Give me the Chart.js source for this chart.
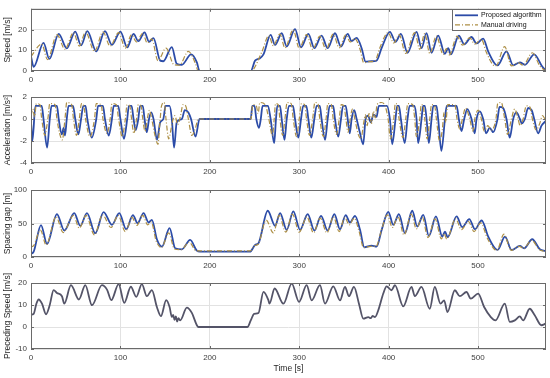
<!DOCTYPE html>
<html>
<head>
<meta charset="utf-8">
<script src="https://cdn.jsdelivr.net/npm/chart.js@4.4.0/dist/chart.umd.min.js"></script>
<style>
  body { margin: 0; background: #fff; }
  #wrap { position: relative; width: 550px; height: 378px; }
  canvas { position: absolute; left: 0; top: 0; }
</style>
</head>
<body>
<div id="wrap">
  <canvas id="speedChart" width="550" height="378"></canvas>
  <canvas id="accChart" width="550" height="378"></canvas>
  <canvas id="gapChart" width="550" height="378"></canvas>
  <canvas id="precChart" width="550" height="378"></canvas>
</div>
<script>
// Series names and axis ticks
const seriesNames = ['Proposed algorithm', 'Manual driving'];
const timeTicks = [0, 100, 200, 300, 400, 500];
const timeMax = 576;

// Speed [m/s] - proposed algorithm
const speedPropT = [0,3,14,20.5,31,40,49.5,56,63,73,82.7,90.5,100,107.6,114.7,120,127,132,137,144.5,148,157.5,163,168.7,179,185.5,188.5,245.8,250.6,255.5,260,268,273,280.4,286,295.3,302,310.2,316.9,325,331.8,340,346.7,354.2,358.6,364.2,369.8,374.2,380.9,386.5,392.1,401.4,407.7,413.7,421.1,431.2,436.8,442.4,448,455.4,462.9,466.6,469.6,478.5,484.5,492.7,498.3,505.7,511.3,518.8,521.8,531.8,539.3,546.8,552.4,562.8,571,575.5];
const speedPropV = [7,2,13.6,5.8,17.9,10.9,19,12.4,19.2,9.5,19.2,12.6,19,11.4,17.9,14.4,18.6,14.1,15.9,5,4.7,11.5,3.5,3,8,4.2,0,0,5,6,8,17.4,12.6,18.2,11.8,20.2,11.4,17.9,11,17.1,11,18.2,11.8,17.9,14.4,16,11,4.5,4.7,5,11,18.9,14.1,17.9,8.8,18.9,11,18.3,8.8,17.1,8.3,11,8,17.1,12.9,16.4,13.3,15.6,9.5,3.5,2.7,9.5,2.7,4.2,3,8,2.7,0.2];

// Speed [m/s] - manual driving
const speedManT = [0,12,18.5,29,38,47.5,54,61,71,80.5,88.5,98,105.5,112.5,118,125,130,135,142,151,160,166,176,184,187,246,258,266,271,278.4,284,293.3,300,308.2,315,323,330,338,344.7,352.2,357,362.2,368,372.2,379,385,390,399.4,405.7,411.7,419.1,429.2,434.8,440.4,446,453.4,461,464.6,468,476.5,482.5,490.7,496.3,503.7,509.3,516.8,520,529.8,537.3,544.8,550.4,560.8,569,575.5];
const speedManV = [7,13,5.5,17.5,10.5,18.5,12,18.8,9.5,18.8,12,18.5,11,17.5,14,18.2,13.5,15.5,5,11,3,2.8,9.5,3.5,0,0,9,17,12.2,17.8,11.2,19.8,11,17.5,10.5,16.8,10.5,17.8,11.2,17.5,14,15.6,10.5,4,4.5,5,11,18.5,13.5,17.5,8.5,18.5,10.5,18,8.5,16.8,8,10.8,7.8,16.8,12.5,16,13,15.3,9,3,2.5,11.8,2.5,4,2.8,8.8,2.5,0];

// Acceleration [m/s^2] - proposed algorithm
const accPropT = [0,1.5,5,12,14,18,21,23,29,31,34.5,36.5,38,40,42,47,49.5,53,56,58.5,61,63,68,73,75,80.5,82.7,87,90.5,92.5,97.5,100,104,107.6,109.5,112.5,114.7,117,120,122,125,127,129.5,132,134.5,137,141,144.5,148,150.5,155,157.5,160,163,168.7,172,176,179,184,188.5,245.8,247.5,250,252,255,257,259,265,268,272,274,275.5,278.5,280.4,283.5,286,288.5,293,295.3,299,302,304.5,308,310.2,313.5,316.9,319.5,323,325,328.9,331.8,334,338,340,343.7,346.7,349,352,354.2,356.5,358.6,361.5,364.2,368,371.6,374.2,377,380,383,386.5,389,398,401.4,404,407.7,409.5,411.5,413.7,418,421.1,423.5,429,431.2,433,436.8,438.5,440.5,442.4,445,448,450,453.5,455.4,459,463,465,476,478.5,481.5,484.5,488,492.7,496.3,498.3,502,505.7,509,513,517,521.8,524,528,531.8,535.4,539.3,543,546.8,549,552.4,556,560,562.8,567.2,571,575.5];
const accPropV = [-0.3,-2,1.2,1.2,0,-2.6,0,1.2,1.2,0,-1.4,-0.8,-1.5,0,1.2,1.2,0,-1.4,0,1.2,1.2,0,-1.7,0,1.2,1.2,0,-1.5,0,1.2,1.2,0,-1.8,0,1.2,1.2,0,-1,0,1.2,1.2,0,-1.2,0,0.6,0,-1.9,-0.3,0,1.2,1.2,0,-2.6,-0.3,0,0.8,0.6,0,-1.6,0,0,1.2,1.2,0,-0.8,0,1.2,1.2,0,-2.2,0,1.2,1.2,0,-1.9,0,1.2,1.2,0,-1.7,0,1.2,1.2,0,-1.7,0,1.2,1.2,0,-1.9,0,1.2,1.2,0,-1.6,0,1.2,1.2,0,-1.3,0,0.8,0,-1.3,-2.3,0,0.3,-0.3,0.4,0.2,1.2,1.2,0,-2.3,0,1.2,1.2,0,-2.2,0,1.2,1.2,0,-2.2,0,1.2,1.2,0,-2.2,0,1.2,1.2,0,-2.9,0,1.2,1.2,0,-1.1,0,0.9,0,-1.3,0,0.7,0,-1.3,-0.8,-1.2,0,1.1,1,0,-1.7,0,0.6,0,-0.4,0,1,0.8,0,-1.3,-0.6,-0.2];

// Acceleration [m/s^2] - manual driving
const accManT = [0,2,4,6,10,12,15.5,17,19,21,27,29,32,35,38,40,45.5,47.5,51,54,56.5,59,61,66,71,73,78.5,80.5,85,88.5,90.5,95.5,98,102,105.5,107.5,110.5,112.5,115,118,120,123,125,127.5,130,132.5,135,139,142,144,146,149,151,154,156,158,161,164,167,170,173,176,180,184,187,246,248,252,254,256,262,266,270,272,273.5,276.5,278.4,281.5,284,286.5,291,293.3,297,300,302.5,306,308.2,311.5,315,317.5,321,323,327,330,332,336,338,341.7,344.7,347,350,352.2,354.5,357,359.5,362.2,366,369,372,374,376,378,381,383,385,387,392,396,399.4,402,405.7,407.5,409.5,411.7,416,419.1,421.5,427,429.2,431,434.8,436.5,438.5,440.4,443,446,448,451.5,453.4,457,460,462,464,466,474,476.5,479.5,482.5,486,490.7,494.3,496.3,500,503.7,507,511,515,520,522,526,529.8,533,537.3,541,544.8,547,550.4,554,558,560.8,565,569,572,575.5];
const accManV = [0.3,0.9,0.2,1.4,1.3,0,-1.5,-1,0.1,1.4,1.3,0,-1.3,-1.9,0,1.5,1.3,0,-1.5,0,1.4,1.2,0,-1.6,0,1.4,1.3,0,-1.3,0,1.4,1.3,0,-1.6,0,1.3,1.2,0,-1.3,0,1.3,1.2,0,-1.1,0,0.8,0,-1.6,-2.3,-0.5,1.2,1.5,0,-1.8,-1.2,-0.3,0.3,-0.5,0.2,1.3,1.2,0,-1.5,-0.8,0,0,1.3,1.2,0.5,1.5,1.3,0,-1.5,0,1.4,1.3,0,-1.5,0,1.5,1.4,0,-1.6,0,1.4,1.3,0,-1.5,0,1.5,1.4,0,-1.6,0,1.4,1.3,0,-1.4,0,1.3,1.2,0,-1.2,0,0.9,0,-1.4,-1.8,-0.4,0.4,-0.6,0.5,-0.4,0.7,0.1,1.3,1.5,1.2,0,-1.8,0,1.4,1.3,0,-1.7,0,1.4,1.3,0,-1.6,0,1.3,1.2,0,-1.8,0,1.3,1.2,0,-2,-1,0.6,-0.3,1.3,1.3,0,-0.9,0,1,0,-1.1,0,0.8,0,-1.1,-0.6,-1,0,1.4,1.5,0,-1.4,0,0.9,0,-0.6,0,1.2,1.1,0,-1,-0.4,0.3,-0.1];

// Spacing gap [m] - proposed algorithm
const gapPropT = [0,3,11.2,17.9,29,37.2,48.4,55.1,62.6,71.9,81.2,90.5,98.7,106.5,114,119.2,125.9,131.5,135.2,140.8,146.4,155,161.3,168.7,178,185.5,189,245,250.6,254.4,264.8,273,278.6,286,293.4,300.9,309.5,316.9,324.4,331.8,339.3,345.6,352,356.8,362.4,368,372.8,381,386.6,392.2,399.6,405.2,411.5,418.2,426.4,432,438.7,445,452.9,460,463,466,476,482.3,490.2,496.5,504,511.4,518.9,521.9,530.1,537.5,546.8,551.6,560.6,569.1,575.5];
const gapPropV = [4.5,8,47.5,19.5,64,39.5,65.5,46.5,65.5,35.5,67,48,65.5,41.5,62.5,50.5,65.5,51.5,55.5,26.5,15.5,43,13,11.5,25.5,9.5,8,8,18,20.5,69,46.5,65.5,40.5,68,40.5,64,39.5,61.5,39.5,64,41.5,62.5,51.5,61.5,40.5,14.5,17,15.5,40.5,67.5,48,64,35.5,69,45.5,63,31.5,60.5,30.5,38,29.5,60.5,44.5,56.5,41.5,54.5,30.5,13,10.5,30.5,10.5,16.5,13,26.5,11.5,9];

// Spacing gap [m] - manual driving
const gapManT = [0,3,10.5,17,28,36,47.5,54,61.5,71,80,89.5,97.5,105.5,113,118.2,125,130.5,134.5,140,146,154,160.5,168,177,185,189,245,250,254,263,271,277.6,285,292.4,300,308.5,316,323.4,331,338.3,344.6,351,356,361.4,367,372,380,386,391.5,398.6,404.2,410.5,417.2,425.4,431,437.7,444,451.9,459,462,465,475,481.3,489.2,495.5,503,510.4,518,521,529,537,546,551,560,568.5,575.5];
const gapManV = [15,17,40,18,60,36.5,62,43,62,33,63,44,62,38,59,47,62,48,52,24,14,36,12,11,22,9,9,9,17,19,55,36,62,37,64,37,60,36,58,36,60,38,59,48,58,38,14,16,16,38,63,44,60,33,64,42,59,29,57,27,35,27,57,41,53,38,51,28,12,10,34,10,16,13,25,11,8];

// Preceding vehicle speed [m/s]
const precT = [0,3,6,8.6,12.3,16.8,20.9,25.3,29,34.6,37.2,44.7,53.6,60.7,68.2,79.3,85,89.8,98,104.3,111.7,117.7,124,129.6,135.2,140.8,145.3,151.2,155,157.5,159,160.5,162,163.5,165,166.9,174.3,179.9,185.5,187.3,242,245.8,249.5,254.4,260,265.5,266.7,272.5,282.3,291.6,299.8,308.3,313.9,323.2,328.8,338.1,345.6,351.2,355.6,361.2,366.8,371.7,377.3,380,382,384.7,388.4,394,397.7,403.3,407,416.3,425.6,429.3,436.7,446,451.6,458,462.1,465.8,474,479.6,487.1,491.9,500.1,506.8,514.3,519.5,529.9,535.5,541.1,546.7,550.4,557.8,563.4,570.9,575.4];
const precV = [5.6,6,10.6,12.5,10.6,5.8,9.9,16.8,15.5,14,10.6,19,12.5,19,9.9,19,17,12.2,19.5,11,18.3,13.7,19.5,14,16.8,9.1,4.9,12.2,9.1,4.6,5.5,3.2,4.8,2.5,4,3,8.8,6.4,0.8,0,0,3,6,6.4,16,12.2,10.6,17.5,10.6,19.7,11.4,19,12.1,19,10.6,18.5,12.1,18.2,14,18.2,10.6,3.8,4.5,4,5,4.5,7.6,15.2,18.5,16.7,19,9.4,18.2,14,18.2,8.3,18.2,10.6,12.1,6.8,16.7,14,15.9,12.9,15.2,9.1,4.5,3,10.6,2.3,3,4.8,3,8.3,5.3,0.8,1.5];

const blue = '#2c4ca8';
const olive = '#ad8f45';
const gray = '#545468';

function pts(t, v) {
  return t.map((x, i) => ({ x: x, y: v[i] }));
}

// box round the plot area with small inward ticks, like the original figure
const boxPlugin = {
  id: 'box',
  afterDraw(chart) {
    const { ctx, chartArea: a, scales } = chart;
    ctx.save();
    ctx.strokeStyle = '#6a6a6a';
    ctx.lineWidth = 1;
    ctx.strokeRect(Math.round(a.left) + 0.5, Math.round(a.top) + 0.5, Math.round(a.right - a.left) - 1, Math.round(a.bottom - a.top) - 1);
    ctx.beginPath();
    scales.x.ticks.forEach(t => {
      const px = Math.round(scales.x.getPixelForValue(t.value)) + 0.5;
      ctx.moveTo(px, a.bottom); ctx.lineTo(px, a.bottom - 3);
      ctx.moveTo(px, a.top); ctx.lineTo(px, a.top + 3);
    });
    scales.y.ticks.forEach(t => {
      const py = Math.round(scales.y.getPixelForValue(t.value)) + 0.5;
      ctx.moveTo(a.left, py); ctx.lineTo(a.left + 3, py);
      ctx.moveTo(a.right, py); ctx.lineTo(a.right - 3, py);
    });
    ctx.stroke();
    ctx.restore();
  }
};

// legend drawn inside the top right corner of the first plot
const legendPlugin = {
  id: 'boxLegend',
  afterDraw(chart) {
    const { ctx, chartArea: a } = chart;
    const w = 94, h = 22;
    const x0 = a.right - w, y0 = a.top;
    ctx.save();
    ctx.fillStyle = '#fff';
    ctx.fillRect(x0, y0, w, h);
    ctx.strokeStyle = '#6a6a6a';
    ctx.lineWidth = 1;
    ctx.strokeRect(Math.round(x0) + 0.5, Math.round(y0) + 0.5, w - 1, h - 1);
    const rows = [
      { label: seriesNames[0], color: blue, width: 1.8, dash: [] },
      { label: seriesNames[1], color: olive, width: 1.2, dash: [5, 2, 1, 2] }
    ];
    ctx.font = '7px "Liberation Sans", Arial, sans-serif';
    ctx.textBaseline = 'middle';
    rows.forEach((r, i) => {
      const y = y0 + 6.5 + i * 9.5;
      ctx.strokeStyle = r.color;
      ctx.lineWidth = r.width;
      ctx.setLineDash(r.dash);
      ctx.beginPath();
      ctx.moveTo(x0 + 3, y);
      ctx.lineTo(x0 + 26, y);
      ctx.stroke();
      ctx.setLineDash([]);
      ctx.fillStyle = '#111';
      ctx.fillText(r.label, x0 + 29, y);
    });
    ctx.restore();
  }
};

const tickFont = { family: '"Liberation Sans", Arial, sans-serif', size: 8 };
const titleFont = { family: '"Liberation Sans", Arial, sans-serif', size: 8.5 };

// every canvas covers the whole figure; padTop and the x axis height put each plot in its band
function makeOptions(yMin, yMax, yStep, yTitle, padTop, xHeight, showTime, hideTop) {
  return {
    responsive: false,
    animation: false,
    devicePixelRatio: 1,
    layout: { padding: { top: padTop, right: 4, left: 0, bottom: 0 } },
    plugins: { legend: { display: false }, tooltip: { enabled: false } },
    elements: { point: { radius: 0 } },
    scales: {
      x: {
        type: 'linear',
        min: 0,
        max: timeMax,
        afterBuildTicks: s => { s.ticks = timeTicks.map(v => ({ value: v })); },
        grid: { color: '#e2e2e2', drawTicks: false },
        border: { display: false },
        ticks: { padding: 4, color: '#404040', font: tickFont, maxRotation: 0, autoSkip: false },
        title: { display: showTime, text: 'Time [s]', color: '#262626', font: titleFont, padding: { top: 0, bottom: 4 } },
        afterFit: s => { s.height = xHeight; }
      },
      y: {
        min: yMin,
        max: yMax,
        grid: { color: '#e2e2e2', drawTicks: false },
        border: { display: false },
        ticks: {
          stepSize: yStep,
          includeBounds: false,
          padding: 4,
          color: '#404040',
          font: tickFont,
          callback: v => (hideTop && v === yMax) ? '' : v
        },
        title: { display: true, text: yTitle, color: '#262626', font: titleFont, padding: { top: 3, bottom: 0 } },
        afterFit: s => { s.width = 31; }
      }
    }
  };
}

function lineSet(label, data, color, width, dash) {
  return {
    label: label,
    data: data,
    borderColor: color,
    borderWidth: width,
    borderDash: dash,
    fill: false,
    cubicInterpolationMode: 'monotone'
  };
}

new Chart(document.getElementById('speedChart'), {
  type: 'line',
  data: {
    datasets: [
      lineSet(seriesNames[1], pts(speedManT, speedManV), olive, 1.2, [5, 2, 1, 2]),
      lineSet(seriesNames[0], pts(speedPropT, speedPropV), blue, 1.8, [])
    ]
  },
  options: makeOptions(0, 30, 10, 'Speed [m/s]', 5, 307, false, true),
  plugins: [boxPlugin, legendPlugin]
});

new Chart(document.getElementById('accChart'), {
  type: 'line',
  data: {
    datasets: [
      lineSet(seriesNames[1], pts(accManT, accManV), olive, 1.2, [5, 2, 1, 2]),
      lineSet(seriesNames[0], pts(accPropT, accPropV), blue, 1.8, [])
    ]
  },
  options: makeOptions(-4, 2, 2, 'Acceleration [m/s\u00b2]', 97, 215, false, false),
  plugins: [boxPlugin]
});

new Chart(document.getElementById('gapChart'), {
  type: 'line',
  data: {
    datasets: [
      lineSet(seriesNames[1], pts(gapManT, gapManV), olive, 1.2, [5, 2, 1, 2]),
      lineSet(seriesNames[0], pts(gapPropT, gapPropV), blue, 1.8, [])
    ]
  },
  options: makeOptions(0, 100, 50, 'Spacing gap [m]', 190, 121, false, false),
  plugins: [boxPlugin]
});

new Chart(document.getElementById('precChart'), {
  type: 'line',
  data: {
    datasets: [
      lineSet('Preceding Speed', pts(precT, precV), gray, 1.8, [])
    ]
  },
  options: makeOptions(-10, 20, 10, 'Preceding Speed [m/s]', 283, 29, true, false),
  plugins: [boxPlugin]
});
</script>
</body>
</html>
